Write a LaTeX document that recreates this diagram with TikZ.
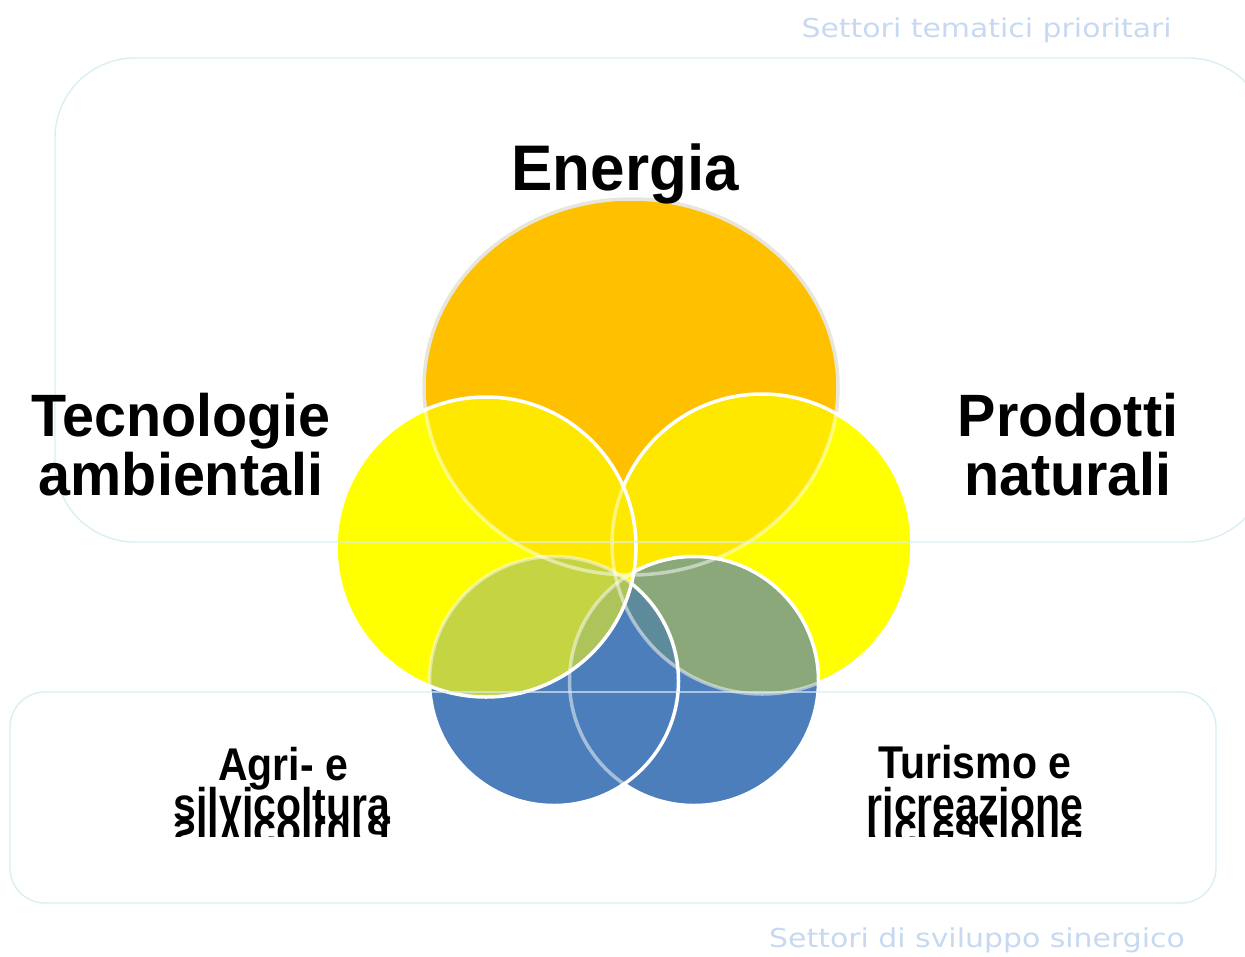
\documentclass[tikz,border=0pt]{standalone}
\usepackage{fontspec}
\setmainfont{Liberation Sans}
\newfontfamily\capfont[FakeStretch=1.15]{DejaVu Sans}
\definecolor{orangeC}{HTML}{FFC000}
\definecolor{yelC}{HTML}{FFFF00}
\definecolor{yelO}{HTML}{FFE800}
\definecolor{bluC}{HTML}{4B7EBA}
\definecolor{grnC}{HTML}{8AA87A}
\definecolor{tealC}{HTML}{5E8B9B}
\definecolor{limeC}{HTML}{C5D443}
\definecolor{lime2C}{HTML}{ADC45A}
\definecolor{boxC}{HTML}{DAEEF3}
\definecolor{capC}{HTML}{C6D9F1}
\definecolor{obordC}{HTML}{E8E6DA}
\tikzset{
  wb/.style={draw=white, line width=3.5pt},
  ob/.style={draw=obordC, line width=3.5pt},
  fadeb/.style={draw=white, draw opacity=0.5, line width=3.5pt},
  boxline/.style={draw=boxC, line width=1.4pt},
  biglbl/.style={font=\bfseries\fontsize{57.5}{60}\selectfont, inner sep=0pt, anchor=base, yscale=1.04},
  midlbl/.style={font=\bfseries\fontsize{41}{44}\selectfont, inner sep=0pt, anchor=base, yscale=1.12},
  captxt/.style={font=\capfont\fontsize{26}{30}\selectfont, text=capC, inner sep=0pt, anchor=base east}
}
\def\pO{(631,387) ellipse [x radius=207, y radius=188]}
\def\pYL{(486,547) circle [radius=150]}
\def\pYR{(762,544) circle [radius=150]}
\def\pBL{(554,681) circle [radius=124.5]}
\def\pBR{(694,681) circle [radius=124.5]}
\begin{document}
\begin{tikzpicture}[x=1pt, y=-1pt]
\useasboundingbox (0,0) rectangle (1245,956);
% Orange
\fill[orangeC] \pO;
\draw[ob] \pO;
% Yellow right
\fill[yelC] \pYR;
\begin{scope}\clip \pYR; \fill[yelO] \pO; \end{scope}
\begin{scope}\clip \pYR; \draw[fadeb] \pO; \end{scope}
\draw[wb] \pYR;
% Blue right
\fill[bluC] \pBR;
\begin{scope}\clip \pBR; \fill[grnC] \pYR; \end{scope}
\begin{scope}\clip \pBR; \draw[fadeb] \pO; \draw[fadeb] \pYR; \end{scope}
\draw[wb] \pBR;
% Blue left
\fill[bluC] \pBL;
\begin{scope}\clip \pBL; \fill[grnC] \pYR; \clip \pYR; \fill[tealC] \pBR; \end{scope}
\begin{scope}\clip \pBL; \draw[fadeb] \pO; \draw[fadeb] \pYR; \draw[fadeb] \pBR; \end{scope}
\draw[wb] \pBL;
% Yellow left
\fill[yelC] \pYL;
\begin{scope}\clip \pYL; \fill[yelO] \pO; \end{scope}
\begin{scope}\clip \pYL; \fill[limeC] \pBL; \clip \pBL; \fill[lime2C] \pBR; \end{scope}
\begin{scope}\clip \pYL; \draw[fadeb] \pO; \draw[fadeb] \pYR; \draw[fadeb] \pBR; \draw[fadeb] \pBL; \end{scope}
\draw[wb] \pYL;
% boxes
\draw[boxline, rounded corners=80] (55,58) rectangle (1268,542);
\draw[boxline, rounded corners=35] (10,692) rectangle (1216,903);
% captions
\node[captxt] (c1) at (1172,37) {Settori tematici prioritari};
\node[captxt] (c2) at (1185,947) {Settori di sviluppo sinergico};
% labels
\node[biglbl, font=\bfseries\fontsize{62}{64}\selectfont] (en) at (625,190) {Energia};
\node[biglbl] (t1) at (181,436) {Tecnologie};
\node[biglbl] (t2) at (181,495) {ambientali};
\node[biglbl] (p1) at (1068,436) {Prodotti};
\node[biglbl] (p2) at (1068,495) {naturali};
\node[midlbl] (a1) at (283,780) {Agri- e};
\node[midlbl] (a2) at (282,820) {silvicoltura};
\node[midlbl] (r1) at (975,778) {Turismo e};
\node[midlbl] (r2) at (975,820) {ricreazione};
\begin{scope}
\clip (150,820) rectangle (420,836);
\node[midlbl, yscale=-1] (a2r) at (282,820) {silvicoltura};
\end{scope}
\begin{scope}
\clip (840,820) rectangle (1110,836);
\node[midlbl, yscale=-1] (r2r) at (975,820) {ricreazione};
\end{scope}
\end{tikzpicture}
\end{document}
